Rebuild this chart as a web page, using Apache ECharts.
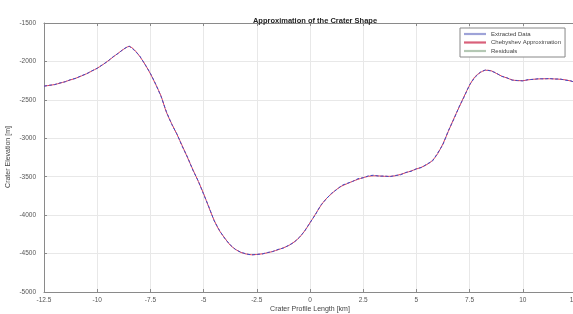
<!DOCTYPE html>
<html>
<head>
<meta charset="utf-8">
<script src="https://cdn.jsdelivr.net/npm/echarts@6/dist/echarts.min.js"></script>
<style>
html, body { margin: 0; padding: 0; background: #fff; }
#main { width: 573px; height: 314px; }
</style>
</head>
<body>
<div id="main"></div>
<script>
// crater profile positions [km]
var xKm = [-12.5, -12.25, -12, -11.75, -11.5, -11.25, -11, -10.75, -10.5, -10.25,
    -10, -9.75, -9.5, -9.25, -9, -8.75, -8.5, -8.25, -8, -7.75,
    -7.5, -7.25, -7, -6.75, -6.5, -6.25, -6, -5.75, -5.5, -5.25,
    -5, -4.75, -4.5, -4.25, -4, -3.75, -3.5, -3.25, -3, -2.75,
    -2.5, -2.25, -2, -1.75, -1.5, -1.25, -1, -0.75, -0.5, -0.25,
    0, 0.25, 0.5, 0.75, 1, 1.25, 1.5, 1.75, 2, 2.25,
    2.5, 2.75, 3, 3.25, 3.5, 3.75, 4, 4.25, 4.5, 4.75,
    5, 5.25, 5.5, 5.75, 6, 6.25, 6.5, 6.75, 7, 7.25,
    7.5, 7.75, 8, 8.25, 8.5, 8.75, 9, 9.25, 9.5, 9.75,
    10, 10.25, 10.5, 10.75, 11, 11.25, 11.5, 11.75, 12, 12.25, 12.5];

// extracted elevation [m]
var extracted = [-2322, -2310, -2302, -2280, -2265, -2236, -2220, -2186, -2162, -2122,
    -2090, -2042, -1998, -1938, -1893, -1836, -1800, -1856, -1930, -2040,
    -2155, -2296, -2456, -2652, -2818, -2946, -3108, -3248, -3418, -3556,
    -3728, -3894, -4076, -4200, -4306, -4386, -4448, -4482, -4504, -4518,
    -4510, -4506, -4486, -4474, -4446, -4428, -4392, -4354, -4290, -4206,
    -4098, -3996, -3872, -3794, -3718, -3668, -3612, -3586, -3562, -3526,
    -3514, -3488, -3480, -3494, -3490, -3500, -3484, -3476, -3444, -3430,
    -3396, -3380, -3334, -3298, -3192, -3080, -2902, -2758, -2594, -2458,
    -2302, -2208, -2140, -2110, -2124, -2150, -2194, -2212, -2244, -2248,
    -2254, -2236, -2234, -2224, -2228, -2222, -2230, -2228, -2244, -2252, -2278];

// Chebyshev approximation [m]
var chebyshev = [-2320, -2312, -2300, -2283, -2262, -2240, -2218, -2190, -2160, -2125,
    -2088, -2045, -1995, -1942, -1890, -1840, -1805, -1850, -1935, -2040,
    -2160, -2300, -2450, -2660, -2810, -2950, -3100, -3255, -3410, -3560,
    -3720, -3900, -4070, -4205, -4300, -4390, -4445, -4485, -4505, -4515,
    -4512, -4503, -4490, -4472, -4450, -4425, -4395, -4350, -4290, -4205,
    -4100, -3990, -3880, -3790, -3725, -3665, -3620, -3590, -3560, -3535,
    -3512, -3495, -3488, -3490, -3495, -3495, -3488, -3470, -3448, -3425,
    -3400, -3375, -3340, -3290, -3200, -3070, -2910, -2750, -2600, -2450,
    -2310, -2200, -2145, -2115, -2120, -2155, -2190, -2215, -2240, -2250,
    -2250, -2240, -2232, -2228, -2225, -2225, -2228, -2232, -2240, -2255, -2275];

// residuals fall outside the shown elevation range
var residuals = [];

function pairs(xs, ys) {
    var out = [];
    for (var i = 0; i < ys.length; i++) {
        out.push([xs[i], ys[i]]);
    }
    return out;
}

var myChart = echarts.init(document.getElementById("main"));
var axisGray = "#8a8a8a";
var nameFont = { fontSize: 7, fill: "#444", fontFamily: "Liberation Sans", textAlign: "center", textVerticalAlign: "middle" };

var option = {
    animation: false,
    backgroundColor: "#fff",
    title: {
        text: "Approximation of the Crater Shape",
        left: 310,
        textAlign: "center",
        top: 12,
        textStyle: { fontSize: 7.5, fontWeight: "bold", color: "#222", fontFamily: "Liberation Sans" }
    },
    // axis titles
    graphic: [
        {
            type: "text", x: 310, y: 309,
            style: Object.assign({ text: "Crater Profile Length [km]" }, nameFont)
        },
        {
            type: "text", x: 8, y: 157, rotation: Math.PI / 2,
            style: Object.assign({ text: "Crater Elevation [m]" }, nameFont)
        }
    ],
    legend: {
        orient: "vertical",
        left: 460,
        top: 28,
        width: 102,
        padding: [3, 4, 3, 4],
        itemGap: 2.5,
        itemWidth: 22,
        itemHeight: 6,
        backgroundColor: "#fff",
        borderColor: "#888",
        borderWidth: 1,
        borderRadius: 0,
        textStyle: { fontSize: 6, color: "#444", fontFamily: "Liberation Sans" },
        data: [
            { name: "Extracted Data", icon: "path://M0,0L10,0L10,1L0,1Z" },
            { name: "Chebyshev Approximation", icon: "path://M0,0L10,0L10,1L0,1Z" },
            { name: "Residuals", icon: "path://M0,0L10,0L10,1L0,1Z" }
        ]
    },
    grid: { left: 44, top: 23, right: -3, bottom: 22, containLabel: false, outerBoundsMode: "none" },
    xAxis: [{
        type: "value",
        min: -12.5,
        max: 12.5,
        interval: 2.5,
        axisLine: { show: true, onZero: false, lineStyle: { color: axisGray } },
        axisTick: { show: true, inside: true, length: 3, lineStyle: { color: axisGray } },
        axisLabel: { color: "#555", fontSize: 6.5, fontFamily: "Liberation Sans", margin: 5 },
        splitLine: { show: true, lineStyle: { color: "#e8e8e8" } }
    }, {
        type: "value",
        position: "top",
        min: -12.5,
        max: 12.5,
        interval: 2.5,
        axisLine: { show: true, onZero: false, lineStyle: { color: axisGray } },
        axisTick: { show: true, inside: true, length: 3, lineStyle: { color: axisGray } },
        axisLabel: { show: false },
        splitLine: { show: false }
    }],
    yAxis: {
        type: "value",
        min: -5000,
        max: -1500,
        interval: 500,
        axisLine: { show: true, onZero: false, lineStyle: { color: axisGray } },
        axisTick: { show: true, inside: true, length: 3, lineStyle: { color: axisGray } },
        axisLabel: {
            color: "#555", fontSize: 6.5, fontFamily: "Liberation Sans",
            formatter: function (v) { return String(v); }
        },
        splitLine: { show: true, lineStyle: { color: "#e8e8e8" } }
    },
    series: [
        {
            name: "Extracted Data",
            type: "line",
            showSymbol: false,
            data: pairs(xKm, extracted),
            lineStyle: { color: "#3d4cc8", width: 1, type: [3, 2] },
            itemStyle: { color: "#9ea3d8" },
            z: 3
        },
        {
            name: "Chebyshev Approximation",
            type: "line",
            showSymbol: false,
            smooth: 0.3,
            data: pairs(xKm, chebyshev),
            lineStyle: { color: "#e0405a", width: 1 },
            itemStyle: { color: "#d9607a" },
            z: 2
        },
        {
            name: "Residuals",
            type: "line",
            showSymbol: false,
            data: residuals,
            lineStyle: { color: "#a9c4a9", width: 1 },
            itemStyle: { color: "#b4c8b4" }
        }
    ]
};
myChart.setOption(option);
</script>
</body>
</html>
